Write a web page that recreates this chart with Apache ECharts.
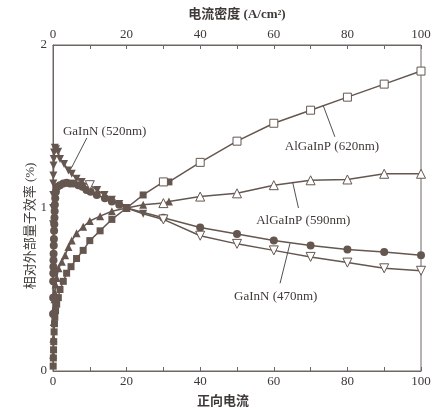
<!DOCTYPE html>
<html><head><meta charset="utf-8">
<script src="https://cdn.jsdelivr.net/npm/echarts@6/dist/echarts.min.js"></script>
<style>html,body{margin:0;padding:0;background:#fff}#c{width:446px;height:411px}</style>
</head><body><div id="c"></div>
<script>
// ---- data ----
const xTickLabels = [0, 20, 40, 60, 80, 100];
const yTickLabels = [0, 1, 2];

// AlGaInP (620nm) - squares
const sq620LowX  = [0.05,0.1,0.15,0.2,0.3,0.4,0.5,0.7,1.0,1.45,1.9,2.8,3.7,4.9,6.4,8.2,10,12.8,16,20,24.5,31.5];
const sq620LowY  = [0.03,0.08,0.13,0.18,0.24,0.29,0.33,0.37,0.41,0.45,0.50,0.55,0.60,0.64,0.69,0.74,0.80,0.86,0.93,1.00,1.08,1.16];
const sq620HighX = [30,40,50,60,70,80,90,100];
const sq620HighY = [1.16,1.28,1.41,1.52,1.60,1.68,1.76,1.84];

// AlGaInP (590nm) - triangles
const tri590LowX  = [0.05,0.1,0.2,0.3,0.4,0.5,0.7,1.0,1.5,2.4,3.3,4.2,5.1,6.4,8.2,10,12.8,16,20,24.5,31.5];
const tri590LowY  = [0.10,0.20,0.30,0.38,0.44,0.48,0.53,0.57,0.63,0.67,0.71,0.76,0.80,0.845,0.885,0.92,0.95,0.98,1.00,1.02,1.04];
const tri590HighX = [30,40,50,60,70,80,90,100];
const tri590HighY = [1.03,1.07,1.09,1.14,1.17,1.175,1.21,1.21];

// GaInN (470nm) - filled circles
const cir470X = [0.02,0.04,0.06,0.08,0.1,0.13,0.16,0.2,0.25,0.3,0.35,0.4,0.45,0.5,0.6,0.8,1.2,1.9,2.8,3.7,4.6,5.5,6.9,8.0,9.1,10.2,11.9,14.1,16,18,20,30,40,50,60,70,80,90,100];
const cir470Y = [0.35,0.45,0.55,0.60,0.64,0.68,0.72,0.77,0.81,0.86,0.90,0.94,0.98,1.02,1.06,1.10,1.13,1.14,1.15,1.155,1.15,1.15,1.14,1.13,1.11,1.10,1.08,1.06,1.04,1.02,1.00,0.94,0.88,0.84,0.80,0.77,0.745,0.73,0.71];

// GaInN (520nm) - inverted triangles
const inv520LowX  = [0.02,0.04,0.06,0.08,0.1,0.15,0.2,0.3,0.5,0.8,1.4,1.9,3.0,4.2,5.1,6.4,7.8,12,14,16,18,20,24.5];
const inv520LowY  = [0.90,1.00,1.08,1.15,1.20,1.26,1.30,1.34,1.37,1.36,1.345,1.30,1.27,1.23,1.21,1.18,1.16,1.11,1.08,1.05,1.025,1.00,0.965];
const inv520HighX = [10,30,40,50,60,70,80,90,100];
const inv520HighY = [1.14,0.93,0.83,0.78,0.74,0.70,0.665,0.63,0.615];

// annotations (text + leader line, in data units)
const annotations = [
  { text: 'GaInN (520nm)',   at: [2.7, 1.466],  from: [9.2, 1.43],  to: [5.1, 1.25] },
  { text: 'AlGaInP (620nm)', at: [63.0, 1.374], from: [76.6, 1.437], to: [73.4, 1.63] },
  { text: 'AlGaInP (590nm)', at: [55.2, 0.92],  from: [66.7, 1.0],  to: [65.1, 1.16] },
  { text: 'GaInN (470nm)',   at: [49.2, 0.456], from: [61.7, 0.538], to: [64.4, 0.783] }
];

// ---- chart ----
const DARK = '#655750';
const AXIS = '#6e6661';
const TEXT = '#3f3a37';
const FONT = "'Liberation Serif', 'Noto Sans CJK SC', serif";

const pairs = (xs, ys) => xs.map((x, i) => [x, ys[i]]);
const merged = (...arrs) => [].concat(...arrs).sort((a, b) => a[0] - b[0]);

function lineSeries(data) {
  return { type: 'line', data, showSymbol: false, symbol: 'none', z: 2,
    lineStyle: { color: DARK, width: 1.5 }, silent: true, animation: false };
}
function scatterSeries(data, symbol, size, open, rotate) {
  return { type: 'scatter', data, symbol, symbolSize: size, symbolRotate: rotate || 0, z: open ? 4 : 3,
    itemStyle: open ? { color: '#fff', borderColor: DARK, borderWidth: 1, opacity: 1 }
                    : { color: DARK, opacity: 1 }, animation: false };
}

const series = [
  lineSeries(merged(pairs(sq620LowX, sq620LowY), pairs(sq620HighX, sq620HighY))),
  lineSeries(merged(pairs(tri590LowX, tri590LowY), pairs(tri590HighX, tri590HighY))),
  lineSeries(pairs(cir470X, cir470Y)),
  lineSeries(merged(pairs(inv520LowX, inv520LowY), pairs(inv520HighX, inv520HighY))),
  scatterSeries(pairs(sq620LowX, sq620LowY), 'rect', 7, false),
  scatterSeries(pairs(sq620HighX, sq620HighY), 'rect', 8, true),
  scatterSeries(pairs(tri590LowX, tri590LowY), 'triangle', 8, false),
  scatterSeries(pairs(tri590HighX, tri590HighY), 'triangle', 9, true),
  scatterSeries(pairs(cir470X, cir470Y), 'circle', 8, false),
  scatterSeries(pairs(inv520LowX, inv520LowY), 'triangle', 8, false, 180),
  scatterSeries(pairs(inv520HighX, inv520HighY), 'triangle', 9, true, 180)
];

const xAxisCommon = {
  type: 'value', min: 0, max: 100, interval: 20,
  nameMoveOverlap: false,
  axisLine: { show: true, lineStyle: { color: AXIS, width: 1 } },
  axisTick: { show: true, inside: true, length: 4, lineStyle: { color: AXIS } },
  minorTick: { show: true, splitNumber: 2, length: 4, lineStyle: { color: AXIS } },
  splitLine: { show: false },
  axisLabel: { color: TEXT, fontFamily: FONT, fontSize: 13,
    formatter: v => xTickLabels.includes(v) ? String(v) : '' }
};

const chart = echarts.init(document.getElementById('c'), null, { renderer: 'canvas' });
const option = {
  backgroundColor: '#fff',
  animation: false,
  grid: { left: 53, right: 25, top: 45, bottom: 40, show: true, borderColor: AXIS, borderWidth: 1,
          containLabel: false, outerBoundsMode: 'none' },
  xAxis: [
    Object.assign({}, xAxisCommon, { position: 'bottom', name: '正向电流', nameLocation: 'middle', nameGap: 24,
      nameTextStyle: { color: TEXT, fontFamily: FONT, fontSize: 13, fontWeight: 'bold', padding: [0, 28, 0, 0] },
      axisLabel: Object.assign({}, xAxisCommon.axisLabel, { margin: 4 }) }),
    Object.assign({}, xAxisCommon, { position: 'top', name: '电流密度 (A/cm²)', nameLocation: 'middle', nameGap: 24,
      nameTextStyle: { color: TEXT, fontFamily: FONT, fontSize: 13, fontWeight: 'bold' },
      axisLabel: Object.assign({}, xAxisCommon.axisLabel, { margin: 4 }) })
  ],
  yAxis: {
    type: 'value', min: 0, max: 2, interval: 1,
    name: '相对外部量子效率 (%)', nameLocation: 'middle', nameGap: 16, nameMoveOverlap: false,
    nameTextStyle: { color: TEXT, fontFamily: FONT, fontSize: 13, padding: [0, 36, 0, 0] },
    axisLine: { show: true, lineStyle: { color: AXIS, width: 1 } },
    axisTick: { show: false },
    splitLine: { show: false },
    axisLabel: { color: TEXT, fontFamily: FONT, fontSize: 13, margin: 6,
      formatter: v => yTickLabels.includes(v) ? String(v) : '' }
  },
  series
};
chart.setOption(option);

const graphics = [];
annotations.forEach(a => {
  const p = chart.convertToPixel({ xAxisIndex: 0, yAxisIndex: 0 }, a.at);
  const f = chart.convertToPixel({ xAxisIndex: 0, yAxisIndex: 0 }, a.from);
  const t = chart.convertToPixel({ xAxisIndex: 0, yAxisIndex: 0 }, a.to);
  graphics.push({ type: 'text', z: 10, x: p[0], y: p[1],
    style: { text: a.text, font: "13px 'Liberation Serif', serif", fill: TEXT,
      textAlign: 'left', textVerticalAlign: 'middle', align: 'left', verticalAlign: 'middle' } });
  graphics.push({ type: 'line', z: 10, shape: { x1: f[0], y1: f[1], x2: t[0], y2: t[1] },
    style: { stroke: '#55504c', lineWidth: 1 } });
});
chart.setOption({ graphic: graphics });
</script>
</body></html>
